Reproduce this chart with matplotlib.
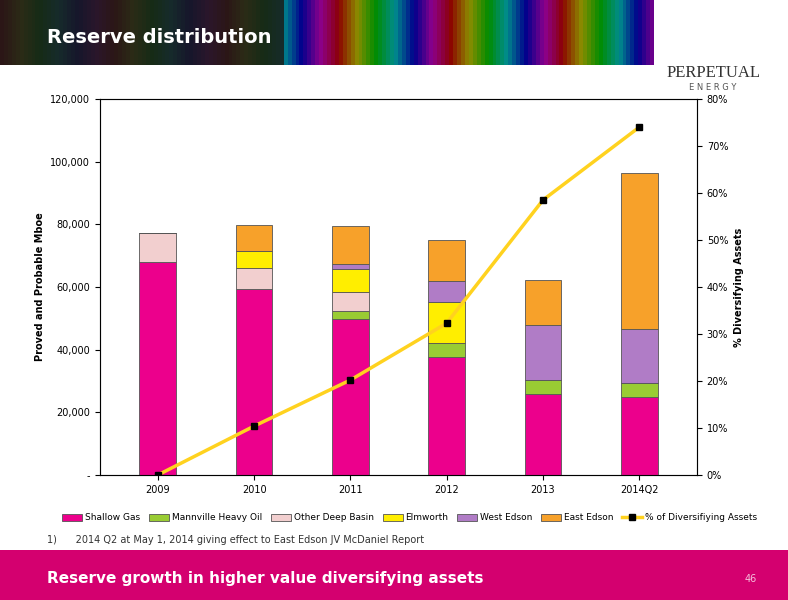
import matplotlib
matplotlib.use("Agg")
import matplotlib.pyplot as plt
import numpy as np
from matplotlib.ticker import FuncFormatter

years = ["2009", "2010", "2011", "2012", "2013", "2014Q2"]
shallow = [68000, 59400, 49800, 37700, 25800, 24900]
mannville = [0, 0, 2500, 4400, 4500, 4500]
otherdeep = [9200, 6600, 6100, 0, 0, 0]
elmworth = [0, 5500, 7300, 13100, 0, 0]
westedson = [0, 0, 1600, 6700, 17600, 17200]
eastedson = [0, 8300, 12200, 13100, 14300, 49800]
pct = [0.0, 10.4, 20.2, 32.3, 58.5, 74.0]

series = [("Shallow Gas", shallow, "#EC008C"),
          ("Mannville Heavy Oil", mannville, "#99CC33"),
          ("Other Deep Basin", otherdeep, "#F2CFCF"),
          ("Elmworth", elmworth, "#FFEE00"),
          ("West Edson", westedson, "#B07CC6"),
          ("East Edson", eastedson, "#F7A12A")]

fig = plt.figure(figsize=(7.88, 6), dpi=100)
# header
hdr = fig.add_axes([0, 1 - 65/600, 1, 65/600])
hdr.set_xlim(0, 1); hdr.set_ylim(0, 1); hdr.axis("off")
grad = np.linspace(0, 1, 200)
cols = plt.cm.hsv(np.mod(grad * 7, 1))
for i, c in enumerate(cols):
    hdr.axvspan(i/200, (i+1)/200, color=c * 0.55 + np.array([0, 0, 0, 0.45]), lw=0)
hdr.axvspan(0, 0.36, color="#1a1a1a", alpha=0.85, lw=0)
hdr.axvspan(0.83, 1, color="white", lw=0)
hdr.text(0.06, 0.42, "Reserve distribution", color="white", fontsize=14, fontweight="bold", va="center")
fig.text(0.905, 0.872, "PERPETUAL", ha="center", fontsize=12, family="Liberation Serif", color="#333")
fig.text(0.905, 0.850, "E N E R G Y", ha="center", fontsize=6, color="#555")

# footer
ft = fig.add_axes([0, 0, 1, 50/600])
ft.set_xlim(0, 1); ft.set_ylim(0, 1); ft.axis("off")
ft.axvspan(0, 1, color="#D4006F", lw=0)
ft.text(0.06, 0.42, "Reserve growth in higher value diversifying assets", color="white",
        fontsize=11, fontweight="bold", va="center")
ft.text(0.945, 0.42, "46", color="#f5c0dc", fontsize=7, va="center")

ax = fig.add_axes([100/788, 1 - 475/600, 597/788, 376/600])
x = np.arange(len(years))
bottom = np.zeros(len(years))
for name, vals, c in series:
    ax.bar(x, vals, 0.38, bottom=bottom, color=c, edgecolor="#555555", lw=0.6, label=name)
    bottom += np.array(vals)
ax.set_ylim(0, 120000)
ax.set_xlim(-0.6, 5.6)
ax.set_yticks(range(0, 120001, 20000))
ax.yaxis.set_major_formatter(FuncFormatter(lambda v, p: "-" if v == 0 else f"{int(v):,}"))
ax.set_xticks(x)
ax.set_xticklabels(years)
ax.tick_params(labelsize=7)
ax.set_ylabel("Proved and Probable Mboe", fontsize=7, fontweight="bold")
for s in ax.spines.values():
    s.set_color("#888")

ax2 = ax.twinx()
ax2.plot(x, pct, color="#FFD21F", lw=2.5, marker="s", ms=4, mfc="black", mec="black",
         label="% of Diversifiying Assets")
ax2.set_ylim(0, 80)
ax2.set_yticks(range(0, 81, 10))
ax2.yaxis.set_major_formatter(FuncFormatter(lambda v, p: f"{int(v)}%"))
ax2.tick_params(labelsize=7)
ax2.set_ylabel("% Diversifying Assets", fontsize=7, fontweight="bold")

h1, l1 = ax.get_legend_handles_labels()
h2, l2 = ax2.get_legend_handles_labels()
fig.legend(h1 + h2, l1 + l2, loc="center", bbox_to_anchor=(0.52, 1 - 518/600), ncol=7,
           fontsize=6.5, frameon=False, handlelength=2.2, columnspacing=1.0, handletextpad=0.3)
fig.text(0.06, 1 - 540/600, "1)      2014 Q2 at May 1, 2014 giving effect to East Edson JV McDaniel Report",
         fontsize=7, va="center", color="#333")
fig.savefig("out.png", dpi=100)
